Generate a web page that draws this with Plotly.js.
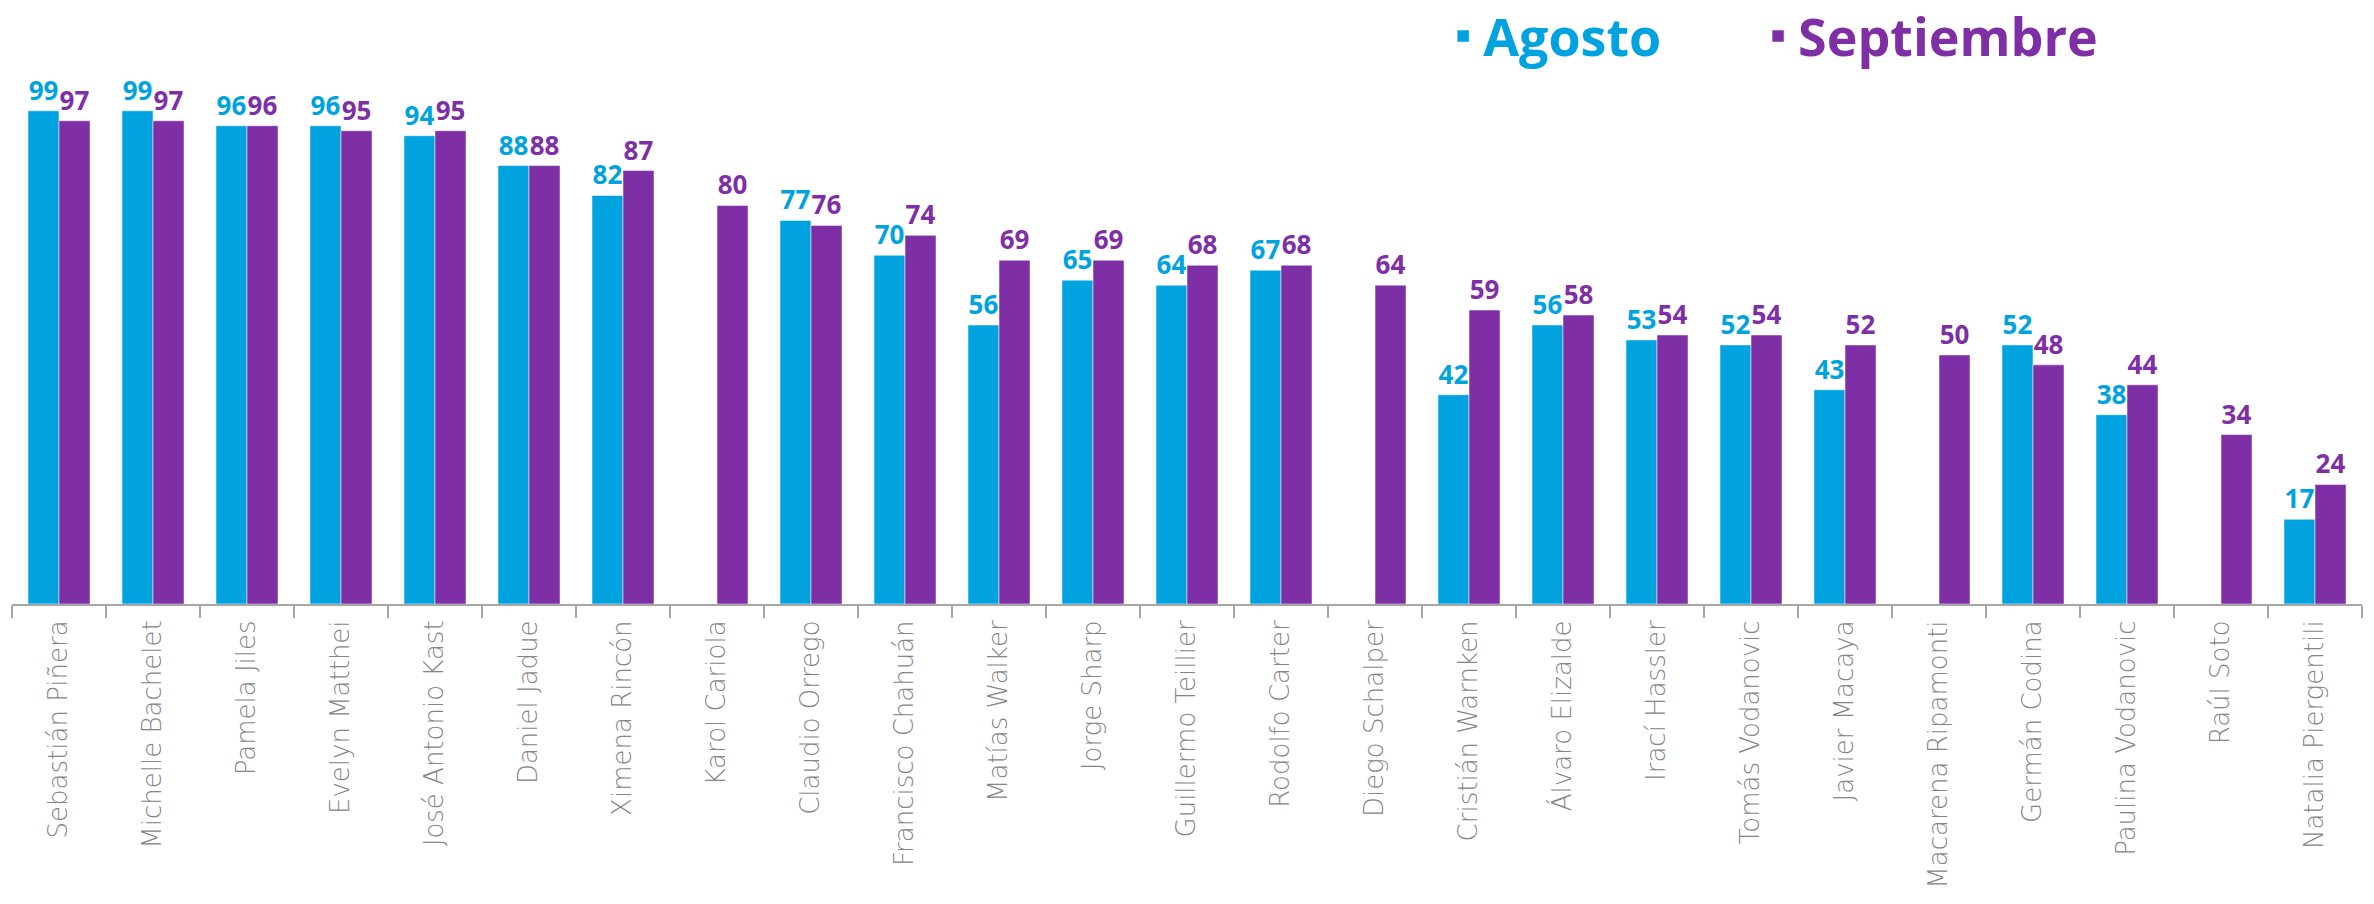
<!DOCTYPE html>
<html>
<head>
<meta charset="utf-8">
<script src="https://cdn.plot.ly/plotly-3.0.1.min.js"></script>
<style>html,body{margin:0;padding:0;background:#fff;}#chart{width:2374px;height:904px;}</style>
</head>
<body>
<div id="chart"></div>
<script>
const categories = ["Sebastián Piñera","Michelle Bachelet","Pamela Jiles","Evelyn Matthei","José Antonio Kast","Daniel Jadue","Ximena Rincón","Karol Cariola","Claudio Orrego","Francisco Chahuán","Matías Walker","Jorge Sharp","Guillermo Teillier","Rodolfo Carter","Diego Schalper","Cristián Warnken","Álvaro Elizalde","Iraćı Hassler","Tomás Vodanovic","Javier Macaya","Macarena Ripamonti","Germán Codina","Paulina Vodanovic","Raúl Soto","Natalia Piergentili"];
categories[17] = "Iraćı Hassler".replace("ć","c").replace("ı","í");
const agosto = [99,99,96,96,94,88,82,null,77,70,56,65,64,67,null,42,56,53,52,43,null,52,38,null,17];
const septiembre = [97,97,96,95,95,88,87,80,76,74,69,69,68,68,64,59,58,54,54,52,50,48,44,34,24];
const seriesNames = ["Agosto","Septiembre"];

const BLUE = "#00A3E0";
const PURPLE = "#7F2FA5";

const labelFont = "'Open Sans', 'DejaVu Sans', sans-serif";
const tickFontFamily = "'DejaVu Sans', 'Open Sans', sans-serif";

const traces = [
  {
    type: "bar", name: seriesNames[0], x: categories, y: agosto,
    marker: {color: BLUE, line: {color: "rgba(255,255,255,0.5)", width: 1}},
    texttemplate: "%{y}", textposition: "outside", cliponaxis: false,
    textfont: {family: labelFont, size: 26, color: BLUE, weight: 700},
    hoverinfo: "x+y+name", legend: "legend"
  },
  {
    type: "bar", name: seriesNames[1], x: categories, y: septiembre,
    marker: {color: PURPLE, line: {color: "rgba(255,255,255,0.5)", width: 1}},
    texttemplate: "%{y}", textposition: "outside", cliponaxis: false,
    textfont: {family: labelFont, size: 26, color: PURPLE, weight: 700},
    hoverinfo: "x+y+name", legend: "legend2"
  }
];

const layout = {
  width: 2374, height: 904,
  paper_bgcolor: "#ffffff", plot_bgcolor: "#ffffff",
  margin: {l: 12, r: 12, t: 56, b: 300, autoexpand: false},
  barmode: "group", bargap: 0.34, bargroupgap: 0,
  showlegend: true,
  legend: {
    orientation: "h", x: 0.609, xanchor: "left", y: 1.11, yanchor: "top",
    font: {family: labelFont, size: 52, color: BLUE, weight: 700},
    bgcolor: "rgba(0,0,0,0)", itemwidth: 30
  },
  legend2: {
    orientation: "h", x: 0.743, xanchor: "left", y: 1.11, yanchor: "top",
    font: {family: labelFont, size: 52, color: PURPLE, weight: 700},
    bgcolor: "rgba(0,0,0,0)", itemwidth: 30
  },
  xaxis: {
    type: "category", tickangle: -90, tickson: "boundaries",
    ticks: "outside", ticklen: 12, tickwidth: 2, tickcolor: "#A6A6A6",
    showline: true, linecolor: "#A6A6A6", linewidth: 2,
    showgrid: false, zeroline: false, automargin: false,
    tickfont: {family: tickFontFamily, size: 26, color: "#858585", weight: 200},
    ticklabelstandoff: 4
  },
  yaxis: {
    range: [0, 110], visible: false, showgrid: false, zeroline: false, fixedrange: true
  }
};

Plotly.newPlot("chart", traces, layout, {displayModeBar: false});
</script>
</body>
</html>
